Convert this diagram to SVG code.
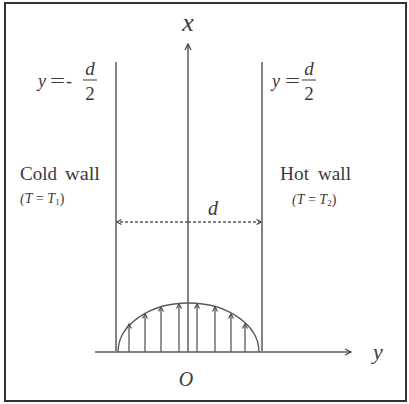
<svg xmlns="http://www.w3.org/2000/svg" width="409" height="404" viewBox="0 0 409 404">
<style>
.ln{stroke:#5a5a5a;stroke-width:1.5;fill:none}
.ar{stroke:#5a5a5a;stroke-width:1.3;fill:none}
.t{font-family:"Liberation Serif",serif;fill:#3a3a3a}
.i{font-style:italic}
.fl{stroke:#3a3a3a;stroke-width:1}
</style>
<defs>
<marker id="ah" markerWidth="8" markerHeight="8" refX="7" refY="4" orient="auto" markerUnits="userSpaceOnUse">
<path d="M1,1 L7,4 L1,7" fill="none" stroke="#4a4a4a" stroke-width="1.3"/>
</marker>
<marker id="ahs" markerWidth="6" markerHeight="6" refX="5" refY="3" orient="auto" markerUnits="userSpaceOnUse">
<path d="M0.5,0.5 L5,3 L0.5,5.5" fill="none" stroke="#4a4a4a" stroke-width="1.2"/>
</marker>
</defs>
<rect x="0" y="0" width="409" height="404" fill="#fff"/>
<rect x="5" y="3" width="401" height="398" fill="none" stroke="#333" stroke-width="2"/>
<g id="connectors">
<line id="x-axis" class="ln" x1="188" y1="352" x2="188" y2="44" marker-end="url(#ah)"/>
<line id="y-axis" class="ln" x1="95" y1="352" x2="351" y2="352" marker-end="url(#ah)"/>
<line id="d-dim-r" class="ar" x1="188" y1="222" x2="261" y2="222" stroke-dasharray="3,2" marker-end="url(#ahs)"/>
<line id="d-dim-l" class="ar" x1="188" y1="222" x2="117" y2="222" stroke-dasharray="3,2" marker-end="url(#ahs)"/>
<g id="profile-arrows">
<line class="ar" x1="129" y1="352" x2="129" y2="324" marker-end="url(#ahs)"/>
<line class="ar" x1="145" y1="352" x2="145" y2="314" marker-end="url(#ahs)"/>
<line class="ar" x1="161" y1="352" x2="161" y2="307" marker-end="url(#ahs)"/>
<line class="ar" x1="179" y1="352" x2="179" y2="304" marker-end="url(#ahs)"/>
<line class="ar" x1="197" y1="352" x2="197" y2="304" marker-end="url(#ahs)"/>
<line class="ar" x1="215" y1="352" x2="215" y2="307" marker-end="url(#ahs)"/>
<line class="ar" x1="231" y1="352" x2="231" y2="314" marker-end="url(#ahs)"/>
<line class="ar" x1="245" y1="352" x2="245" y2="324" marker-end="url(#ahs)"/>
</g>
</g>
<g id="cold-wall">
<line class="ln" x1="116" y1="62" x2="116" y2="351"/>
<text class="t" x="20" y="180" font-size="18.5" textLength="37" lengthAdjust="spacingAndGlyphs">Cold</text>
<text class="t" x="65" y="180" font-size="18.5" textLength="35" lengthAdjust="spacingAndGlyphs">wall</text>
<text class="t" x="20" y="203" font-size="14"><tspan class="i">(T</tspan> = <tspan class="i">T</tspan><tspan font-size="9" dy="2">1</tspan><tspan dy="-2">)</tspan></text>
<text class="t i" x="38" y="87" font-size="18">y</text>
<text class="t" x="50" y="87" font-size="18" textLength="15" lengthAdjust="spacingAndGlyphs">=</text>
<text class="t" x="66" y="87" font-size="18">-</text>
<text class="t i" x="90" y="75" font-size="19" text-anchor="middle">d</text>
<line class="fl" x1="83" y1="80" x2="97" y2="80"/>
<text class="t" x="90" y="100" font-size="19" text-anchor="middle">2</text>
</g>
<g id="hot-wall">
<line class="ln" x1="262" y1="62" x2="262" y2="351"/>
<text class="t" x="280" y="180" font-size="18.5" textLength="29" lengthAdjust="spacingAndGlyphs">Hot</text>
<text class="t" x="318" y="180" font-size="18.5" textLength="33" lengthAdjust="spacingAndGlyphs">wall</text>
<text class="t" x="292" y="204" font-size="14"><tspan class="i">(T</tspan> = <tspan class="i">T</tspan><tspan font-size="9" dy="2">2</tspan><tspan dy="-2">)</tspan></text>
<text class="t i" x="272" y="87" font-size="18">y</text>
<text class="t" x="285" y="87" font-size="18" textLength="15" lengthAdjust="spacingAndGlyphs">=</text>
<text class="t i" x="309" y="75" font-size="19" text-anchor="middle">d</text>
<line class="fl" x1="302" y1="80" x2="316" y2="80"/>
<text class="t" x="309" y="100" font-size="19" text-anchor="middle">2</text>
</g>
<g id="profile">
<path class="ar" d="M118,352 A70.5,49 0 0 1 259,352"/>
</g>
<g id="labels">
<text class="t i" x="188" y="31" font-size="26" text-anchor="middle">x</text>
<text class="t i" x="213" y="215" font-size="20" text-anchor="middle">d</text>
<text class="t i" x="378" y="359" font-size="22" text-anchor="middle">y</text>
<text class="t i" x="186" y="386" font-size="20" text-anchor="middle">O</text>
</g>
</svg>
